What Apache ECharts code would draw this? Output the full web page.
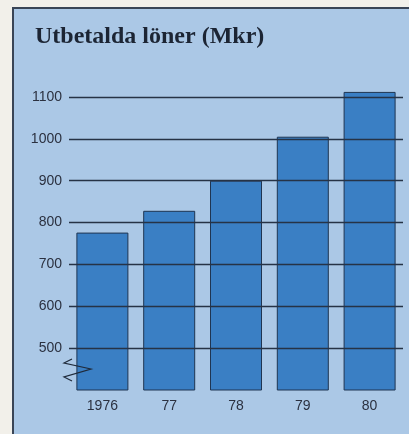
<!DOCTYPE html>
<html>
<head>
<meta charset="utf-8">
<script src="https://cdn.jsdelivr.net/npm/echarts@6/dist/echarts.min.js"></script>
<style>
  html, body { margin: 0; padding: 0; background: #f2f0ea; }
  #chart { width: 409px; height: 434px; }
</style>
</head>
<body>
<div id="chart"></div>
<script>
// utbetalda löner, Mkr
const years = ['1976', '77', '78', '79', '80']
const loner = [776, 828, 900, 1005, 1112]
const gridValues = [500, 600, 700, 800, 900, 1000, 1100]

const chart = echarts.init(document.getElementById('chart'))
chart.setOption({
  animation: false,
  backgroundColor: '#f2f0ea',
  graphic: [
    {
      type: 'rect',
      z: -10,
      shape: { x: 13, y: 8, width: 420, height: 450 },
      style: { fill: '#abc8e6', stroke: '#3a4556', lineWidth: 2 }
    },
    {
      type: 'text',
      left: 35,
      top: 25,
      style: {
        text: 'Utbetalda löner (Mkr)',
        font: 'bold 24px "Liberation Serif", "DejaVu Serif", serif',
        fill: '#1c2534'
      }
    },
    {
      // axelbrott
      type: 'polyline',
      z: 100,
      shape: { points: [[72, 359], [64, 363], [91, 369], [64, 377], [72, 381]] },
      style: { stroke: '#1f2a3a', lineWidth: 1.2, fill: null }
    }
  ],
  grid: { left: 69, right: 6, top: 76, bottom: 44 },
  xAxis: {
    type: 'category',
    data: years,
    axisLine: { show: false },
    axisTick: { show: false },
    axisLabel: {
      margin: 9,
      fontSize: 14,
      fontFamily: '"Liberation Sans", Arial, sans-serif',
      color: '#2b3140'
    }
  },
  yAxis: {
    type: 'value',
    min: 400,
    max: 1150,
    interval: 100,
    axisLine: { show: false },
    axisTick: { show: false },
    splitLine: { show: false },
    axisLabel: {
      margin: 7,
      fontSize: 14,
      fontFamily: '"Liberation Sans", Arial, sans-serif',
      color: '#2b3140',
      formatter: v => (v >= 500 && v <= 1100 ? String(v) : '')
    }
  },
  series: [{
    type: 'bar',
    data: loner,
    barWidth: 52,
    itemStyle: { color: '#3a7fc4', borderColor: '#1f3552', borderWidth: 1 },
    markLine: {
      silent: true,
      symbol: 'none',
      label: { show: false },
      lineStyle: { color: '#263346', width: 1.4, type: 'solid' },
      data: gridValues.map(v => ({ yAxis: v }))
    }
  }]
})
</script>
</body>
</html>
